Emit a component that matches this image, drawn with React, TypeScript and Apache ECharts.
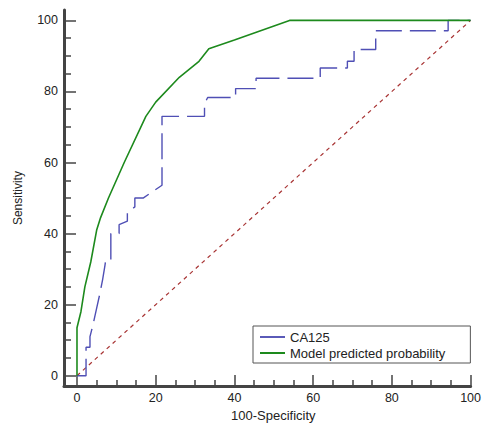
import React, { useEffect, useRef } from "react";
import * as echarts from "echarts";

// Data
const ca125Points: [number, number][] = [
  [0, 0], [2.3, 0], [2.3, 8], [3.3, 8], [3.3, 11], [4, 14], [5, 19], [5.8, 23], [6.5, 27],
  [7.1, 31], [7.3, 32.6], [8.6, 32.6], [8.6, 40], [10.7, 40], [10.7, 42.5], [12.8, 43.5],
  [12.8, 46], [14.7, 47.5], [14.7, 50], [16.8, 50], [21.6, 53.6], [21.6, 73], [32.4, 73],
  [32.4, 76.5], [33.2, 78.3], [40.3, 78.3], [40.3, 80.8], [45.5, 80.8], [45.5, 83.7],
  [61.8, 83.7], [61.8, 86.6], [68.7, 86.6], [68.7, 88.5], [70.4, 88.5], [70.4, 91.8],
  [73.3, 91.8], [75.9, 91.8], [75.9, 97.1], [94.3, 97.1], [94.3, 100], [100, 100],
];
const modelPoints: [number, number][] = [
  [0, 0], [0, 13.5], [1, 18], [2, 25], [3.5, 32], [5, 41], [6, 44.5], [8, 50], [12, 60],
  [17.5, 73], [20, 77], [26, 84], [31, 88.5], [33.5, 92], [40, 94.5], [54, 100], [100, 100],
];
const diagonalPoints: [number, number][] = [[0, 0], [100, 100]];
const majorTicks = [0, 20, 40, 60, 80, 100];
const minorTicks = [5, 10, 15, 25, 30, 35, 45, 50, 55, 65, 70, 75, 85, 90, 95];
const seriesNames = ["CA125", "Model predicted probability"];

export default function App() {
  const ref = useRef<HTMLDivElement>(null);
  useEffect(() => {
    if (!ref.current) return;
    const chart = echarts.init(ref.current, undefined, { renderer: "svg" });
    const axisColor = "#444";
    const font = "'Liberation Sans', Arial, sans-serif";
    const xMin = -3.3, xMax = 100, yMin = -2.93, yMax = 102.93;
    const common = {
      splitLine: { show: false },
    };
    chart.setOption({
      animation: false,
      backgroundColor: "#fff",
      grid: { left: 64, right: 12, top: 10, bottom: 38 },
      legend: {
        data: seriesNames,
        orient: "vertical",
        left: 253,
        top: 326,
        icon: "rect",
        itemWidth: 25,
        itemHeight: 2,
        itemGap: 2,
        padding: [4, 25, 3, 7],
        borderColor: "#555",
        borderWidth: 1,
        textStyle: { fontFamily: font, fontSize: 13, color: "#222", lineHeight: 14 },
      },
      xAxis: [
        {
          ...common,
          type: "value",
          min: xMin,
          max: xMax,
          position: "bottom",
          name: "100-Specificity",
          nameLocation: "middle",
          nameGap: 21,
          nameTextStyle: { fontFamily: font, fontSize: 13, color: "#222", padding: [0, 0, 0, 12] },
          axisLine: { show: true, onZero: false, lineStyle: { color: axisColor, width: 3 } },
          axisTick: { show: true, inside: true, length: 11, lineStyle: { color: axisColor, width: 1.5 }, customValues: majorTicks },
          axisLabel: { customValues: majorTicks, margin: 5, fontFamily: font, fontSize: 12.5, color: "#222" },
        },
        {
          ...common,
          type: "value",
          min: xMin,
          max: xMax,
          position: "bottom",
          axisLine: { show: false, onZero: false },
          axisTick: { show: true, inside: true, length: 6, lineStyle: { color: axisColor, width: 1.5 }, customValues: minorTicks },
          axisLabel: { show: false },
        },
      ],
      yAxis: [
        {
          ...common,
          type: "value",
          min: yMin,
          max: yMax,
          position: "left",
          name: "Sensitivity",
          nameLocation: "middle",
          nameGap: 40,
          nameTextStyle: { fontFamily: font, fontSize: 12, color: "#222" },
          axisLine: { show: true, onZero: false, lineStyle: { color: axisColor, width: 3 } },
          axisTick: { show: true, inside: true, length: 12, lineStyle: { color: axisColor, width: 1.5 }, customValues: majorTicks },
          axisLabel: { customValues: majorTicks, margin: 6, fontFamily: font, fontSize: 12.5, color: "#222" },
        },
        {
          ...common,
          type: "value",
          min: yMin,
          max: yMax,
          position: "left",
          offset: 0,
          axisLine: { show: false, onZero: false },
          axisTick: { show: true, inside: true, length: 7, lineStyle: { color: axisColor, width: 1.5 }, customValues: minorTicks },
          axisLabel: { show: false },
        },
      ],
      series: [
        {
          name: "",
          type: "line",
          data: diagonalPoints,
          symbol: "none",
          silent: true,
          lineStyle: { color: "#a83434", width: 1.2, type: [4, 4] },
        },
        {
          name: seriesNames[0],
          type: "line",
          data: ca125Points,
          symbol: "none",
          itemStyle: { color: "#5a5ab8" },
          lineStyle: { color: "#4f4fb5", width: 1.4, type: [26, 8] },
        },
        {
          name: seriesNames[1],
          type: "line",
          data: modelPoints,
          symbol: "none",
          itemStyle: { color: "#1d8a1d" },
          lineStyle: { color: "#1d8a1d", width: 1.6 },
        },
      ],
    });
    return () => chart.dispose();
  }, []);
  return <div ref={ref} style={{ position: "fixed", left: 0, top: 0, width: 484, height: 427 }} />;
}
